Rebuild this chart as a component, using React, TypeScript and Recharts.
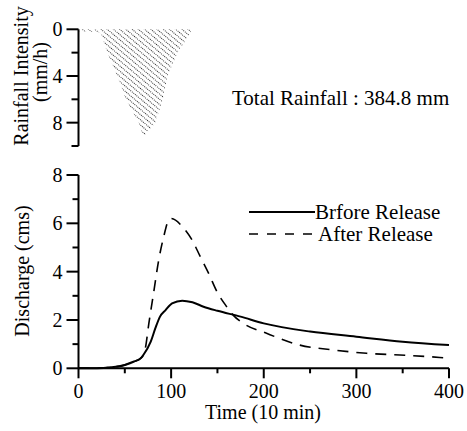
import React from 'react';
import { ComposedChart, Area, XAxis, YAxis, LineChart, Line, Legend } from 'recharts';

const FONT = 'Liberation Serif';
const TS: React.CSSProperties = { fontFamily: FONT };

// Hyetograph (rainfall intensity, mm/h) vs time (10 min)
const rainTime = [0, 20, 24, 31, 42, 51, 65, 70, 83, 91, 96, 107, 121, 122];
const rainIntensity = [0.2, 0.2, 0.3, 2, 4, 6, 8, 9.2, 8, 6, 4, 2, 0.3, 0];
const rainTicks = [0, 2, 4, 6, 8, 10];
const rainLabelTicks = [0, 4, 8];

// Discharge (cms)
const beforeTime = [0, 20, 35, 50, 60, 67, 70, 78, 83, 88, 94, 101, 112, 123, 135, 150, 175, 200, 250, 300, 350, 400];
const beforeQ = [0, 0, 0.04, 0.14, 0.28, 0.41, 0.55, 1.1, 1.66, 2.14, 2.41, 2.69, 2.8, 2.73, 2.55, 2.38, 2.14, 1.86, 1.52, 1.31, 1.1, 0.96];
const afterTime = [0, 20, 35, 50, 60, 67, 70, 72, 76, 81, 86.6, 92, 97.4, 100, 113.5, 122.6, 131.5, 140.5, 149.5, 160, 167, 178, 203, 239, 275, 311, 347, 390, 400];
const afterQ = [0, 0, 0.04, 0.14, 0.28, 0.41, 0.55, 0.8, 1.87, 3.1, 4.48, 5.45, 6.14, 6.2, 5.8, 5.31, 4.62, 3.93, 3.17, 2.55, 2.2, 1.86, 1.45, 0.96, 0.76, 0.62, 0.55, 0.45, 0.42];

const timeTicks = [0, 50, 100, 150, 200, 250, 300, 350, 400];
const timeLabelTicks = [0, 100, 200, 300, 400];
const qTicks = [0, 1, 2, 3, 4, 5, 6, 7, 8];
const qLabelTicks = [0, 2, 4, 6, 8];

const seriesNames = ['Brfore Release', 'After Release'];
const rainNote = 'Total Rainfall : 384.8 mm';

const rainData = rainTime.map((t, i) => ({ time: t, intensity: rainIntensity[i] }));
const beforeData = beforeTime.map((t, i) => ({ time: t, q: beforeQ[i] }));
const afterData = afterTime.map((t, i) => ({ time: t, q: afterQ[i] }));

const RainTick = (props: any) => {
  const { x, y, payload } = props;
  const major = rainLabelTicks.includes(payload.value);
  return (
    <g>
      <line x1={x} x2={x - (major ? 12 : 7)} y1={y} y2={y} stroke="#000" strokeWidth={2} />
      {major && (
        <text x={x - 16} y={y} textAnchor="end" dominantBaseline="central" fontSize={20} fontFamily={FONT} style={TS} fill="#000">
          {payload.value}
        </text>
      )}
    </g>
  );
};

const QTick = (props: any) => {
  const { x, y, payload } = props;
  const major = qLabelTicks.includes(payload.value);
  return (
    <g>
      <line x1={x} x2={x - (major ? 12 : 6)} y1={y} y2={y} stroke="#000" strokeWidth={2} />
      {major && (
        <text x={x - 16} y={y} textAnchor="end" dominantBaseline="central" fontSize={20} fontFamily={FONT} style={TS} fill="#000">
          {payload.value}
        </text>
      )}
    </g>
  );
};

const TimeTick = (props: any) => {
  const { x, y, payload } = props;
  const major = timeLabelTicks.includes(payload.value);
  return (
    <g>
      <line x1={x} x2={x} y1={y} y2={y + (major ? 10 : 5)} stroke="#000" strokeWidth={2} />
      {major && (
        <text x={x} y={y + 23} textAnchor="middle" dominantBaseline="central" fontSize={20} fontFamily={FONT} style={TS} fill="#000">
          {payload.value}
        </text>
      )}
    </g>
  );
};

const LegendContent = () => (
  <svg width={210} height={46} style={{ display: 'block', overflow: 'visible' }}>
    <line x1={0} x2={66} y1={12} y2={12} stroke="#000" strokeWidth={2} />
    <text x={66} y={12} dominantBaseline="central" fontSize={21} fontFamily={FONT} style={TS} fill="#000">
      {seriesNames[0]}
    </text>
    <line x1={0} x2={66} y1={34} y2={34} stroke="#000" strokeWidth={1.5} strokeDasharray="9 9" />
    <text x={69} y={34} dominantBaseline="central" fontSize={21} fontFamily={FONT} style={TS} fill="#000">
      {seriesNames[1]}
    </text>
  </svg>
);

export default function App() {
  return (
    <div style={{ position: 'absolute', left: 0, top: 0, width: 467, height: 431, background: '#fff', fontFamily: FONT }}>
      <div style={{ position: 'absolute', left: 0, top: 0 }}>
        <ComposedChart width={467} height={160} data={rainData} margin={{ top: 29.3, right: 18, left: 0, bottom: 14 }} style={TS}>
          <defs>
            <pattern id="hatch" patternUnits="userSpaceOnUse" width={4} height={4} patternTransform="rotate(40)">
              <line x1={0} y1={1.5} x2={4} y2={1.5} stroke="#333" strokeWidth={1} strokeDasharray="1 1" />
            </pattern>
          </defs>
          <XAxis
            type="number"
            dataKey="time"
            domain={[0, 400]}
            orientation="top"
            height={0}
            tick={false}
            tickLine={false}
            axisLine={{ stroke: '#000', strokeWidth: 2 }}
          />
          <YAxis
            type="number"
            domain={[0, 10]}
            reversed
            ticks={rainTicks}
            width={78.5}
            tickSize={0}
            tickMargin={0}
            tickLine={false}
            tick={<RainTick />}
            axisLine={{ stroke: '#000', strokeWidth: 2 }}
            interval={0}
            label={{
              content: () => (
                <g fill="#000">
                  <text x={21} y={76} transform="rotate(-90 21 76)" textAnchor="middle" dominantBaseline="central" fontSize={20} fontFamily={FONT} style={TS}>
                    Rainfall Intensity
                  </text>
                  <text x={40} y={72} transform="rotate(-90 40 72)" textAnchor="middle" dominantBaseline="central" fontSize={20} fontFamily={FONT} style={TS}>
                    (mm/h)
                  </text>
                  <text x={232} y={105} fontSize={21} fontFamily={FONT} style={TS}>
                    {rainNote}
                  </text>
                </g>
              ),
            }}
          />
          <Area type="linear" dataKey="intensity" stroke="none" fill="url(#hatch)" fillOpacity={1} isAnimationActive={false} />
        </ComposedChart>
      </div>
      <div style={{ position: 'absolute', left: 0, top: 160 }}>
        <LineChart width={467} height={271} margin={{ top: 15, right: 18, left: 0, bottom: 0 }} style={TS}>
          <XAxis
            type="number"
            dataKey="time"
            domain={[0, 400]}
            ticks={timeTicks}
            interval={0}
            height={62.7}
            tickSize={0}
            tickMargin={0}
            tickLine={false}
            tick={<TimeTick />}
            axisLine={{ stroke: '#000', strokeWidth: 2 }}
            label={{
              content: () => (
                <text x={263} y={252} textAnchor="middle" dominantBaseline="central" fontSize={20} fontFamily={FONT} style={TS} fill="#000">
                  Time (10 min)
                </text>
              ),
            }}
          />
          <YAxis
            type="number"
            domain={[0, 8]}
            ticks={qTicks}
            interval={0}
            width={78.5}
            tickSize={0}
            tickMargin={0}
            tickLine={false}
            tick={<QTick />}
            axisLine={{ stroke: '#000', strokeWidth: 2 }}
            label={{
              content: () => (
                <text x={22} y={111} transform="rotate(-90 22 111)" textAnchor="middle" dominantBaseline="central" fontSize={20} fontFamily={FONT} style={TS} fill="#000">
                  Discharge (cms)
                </text>
              ),
            }}
          />
          <Line data={beforeData} dataKey="q" name={seriesNames[0]} type="monotone" stroke="#000" strokeWidth={2} dot={false} isAnimationActive={false} />
          <Line data={afterData} dataKey="q" name={seriesNames[1]} type="monotone" stroke="#000" strokeWidth={1.6} strokeDasharray="11 8" dot={false} isAnimationActive={false} />
          <Legend
            layout="horizontal"
            align="center"
            verticalAlign="middle"
            content={<LegendContent />}
            wrapperStyle={{ position: 'absolute', left: 249, top: 40, width: 210, height: 46 }}
          />
        </LineChart>
      </div>
    </div>
  );
}
